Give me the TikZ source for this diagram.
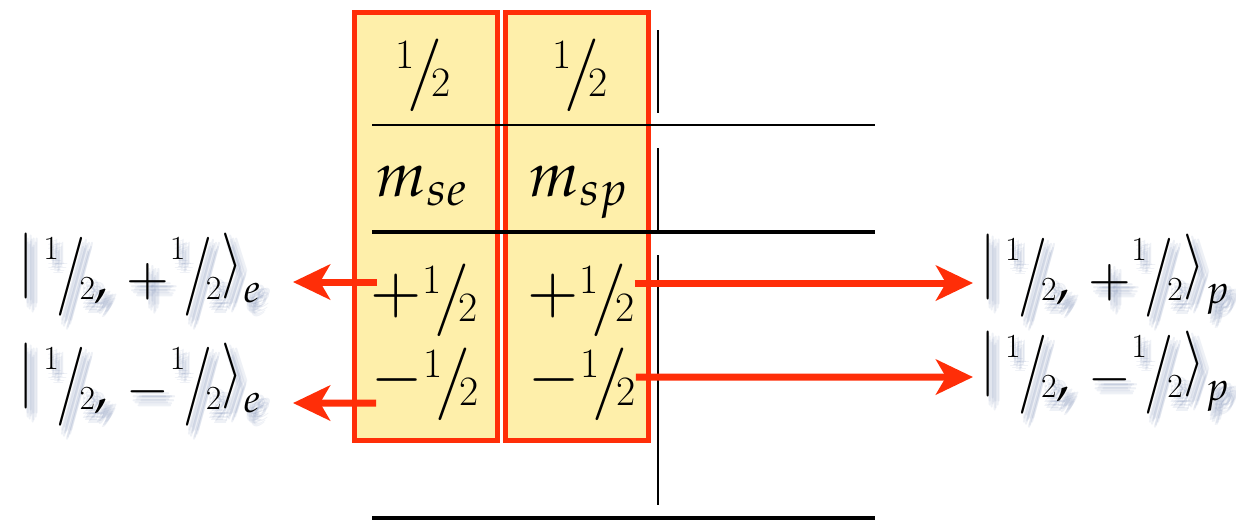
\documentclass[tikz,border=0pt]{standalone}
\usepackage{mathpazo}
\usepackage{graphicx}
\usepackage{tikz}
\usetikzlibrary{arrows.meta, positioning}
\definecolor{boxred}{RGB}{255,46,8}
\definecolor{boxfill}{RGB}{254,239,170}
\definecolor{shadowblue}{RGB}{70,95,150}
\tikzstyle{spinbox} = [
    rectangle,
    draw=boxred,
    line width=1.4pt,
    fill=boxfill,
    minimum width=1.43cm,
    minimum height=4.28cm,
    inner sep=0pt
]
\tikzstyle{cell} = [font=\fontsize{18}{22}\selectfont, inner sep=0pt, anchor=base]
\tikzstyle{ket} = [font=\fontsize{15}{18}\selectfont, inner sep=0pt]
\tikzstyle{ketshadow} = [ket, text=shadowblue, text opacity=0.09]
\tikzstyle{statearrow} = [boxred, line width=2pt, -{Stealth[length=0.37cm, width=0.35cm, inset=0.1cm]}]
\tikzstyle{tablerule} = [black, line width=0.7pt]
% Bruch 1/2 in der Tabelle und in den Kets
\newcommand{\hf}{\mbox{\raisebox{0.30em}{\scalebox{0.66}{1}}\kern-0.11em\raisebox{-0.10em}{\scalebox{1.2}[1.15]{/}}\kern-0.17em\raisebox{-0.15em}{\scalebox{0.66}{2}}}}
\newcommand{\hk}{\mbox{\raisebox{0.68em}{\scalebox{0.64}{1}}\kern-0.04em\raisebox{-0.02em}{\scalebox{1.2}[1.5]{/}}\kern-0.12em\raisebox{-0.08em}{\scalebox{0.64}{2}}}}
\newcommand{\kbar}{\mbox{\raisebox{0.24em}{\scalebox{1}[1.2]{$|$}}}}
\newcommand{\kang}{\mbox{\raisebox{0.24em}{\scalebox{1}[1.2]{$\rangle$}}}}
\newcommand{\shadowket}[4]{%
    \foreach \dx/\dy [count=\k] in {0.02/-0.05,0.05/-0.08,0.08/-0.05,0.05/-0.02,0.04/-0.11,0.10/-0.09,0.06/-0.06,0.02/-0.09,0.08/-0.12,0.11/-0.05,0.07/-0.14}
        \node (#1-sh\k) [ketshadow, anchor=#2] at ([shift={(\dx,\dy)}]#3) {#4};
    \node (#1) [ket, anchor=#2] at (#3) {#4};}

\begin{document}
\begin{tikzpicture}
    \useasboundingbox (0,0) rectangle (12.36,-5.21);
    % Spalten
    \node (boxE) [spinbox] at (4.26,-2.265) {};
    \node (boxP) [spinbox, right=0.03cm of boxE] {};
    % Linien der Tabelle
    \draw [tablerule] (3.72,-1.25) -- (8.75,-1.25);
    \draw [tablerule, line width=1.2pt] (3.72,-2.32) -- (8.75,-2.32);
    \draw [tablerule, line width=1.2pt] (3.72,-5.18) -- (8.75,-5.18);
    \draw [tablerule, line width=0.5pt] (6.58,-0.30) -- (6.58,-1.13);
    \draw [tablerule, line width=0.5pt] (6.58,-1.48) -- (6.58,-2.32);
    \draw [tablerule, line width=0.5pt] (6.58,-2.55) -- (6.58,-5.05);
    % Einträge
    \node (sE) [cell] at (4.23,-0.87) {$\hf$};
    \node (sP) [cell] at (5.80,-0.87) {$\hf$};
    \node (mE) [cell] at (4.22,-1.96) {$m_{se}$};
    \node (mP) [cell] at (5.79,-1.96) {$m_{sp}$};
    \node (plusE) [cell] at (4.24,-3.12) {$+\hf$};
    \node (plusP) [cell] at (5.81,-3.12) {$+\hf$};
    \node (minusE) [cell] at (4.25,-3.96) {$-\hf$};
    \node (minusP) [cell] at (5.82,-3.96) {$-\hf$};
    % Zustände
    \shadowket{ketEp}{base east}{2.63,-2.95}{$\kbar\,\hk,\,+\hk\kang_{e}$}
    \shadowket{ketEm}{base east}{2.63,-4.05}{$\kbar\,\hk,\,-\hk\kang_{e}$}
    \shadowket{ketPp}{base west}{9.79,-2.96}{$\kbar\,\hk,\,+\hk\kang_{p}$}
    \shadowket{ketPm}{base west}{9.79,-3.93}{$\kbar\,\hk,\,-\hk\kang_{p}$}
    % Pfeile
    \draw [statearrow] ([shift={(0.08,0.30)}]plusE.base west) -- ([shift={(0.30,0.13)}]ketEp.base east);
    \draw [statearrow] ([shift={(0.06,-0.07)}]minusE.base west) -- ([shift={(0.30,0.02)}]ketEm.base east);
    \draw [statearrow] ([shift={(-0.01,0.29)}]plusP.base east) -- ([shift={(-0.06,0.13)}]ketPp.base west);
    \draw [statearrow] ([shift={(-0.01,0.19)}]minusP.base east) -- ([shift={(-0.06,0.16)}]ketPm.base west);
\end{tikzpicture}
\end{document}
